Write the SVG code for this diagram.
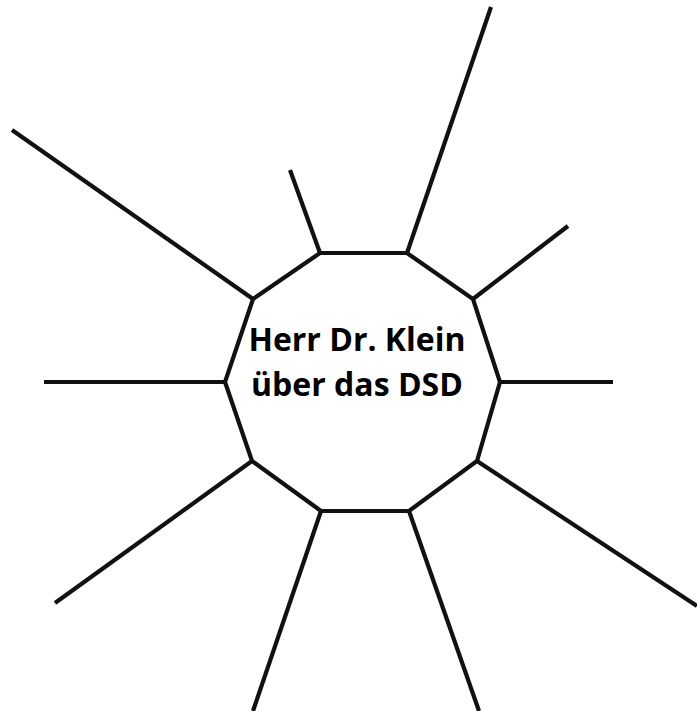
<svg xmlns="http://www.w3.org/2000/svg" width="697" height="711" viewBox="0 0 697 711">
<style>
.l{stroke:#111;stroke-width:4.2;fill:none;stroke-linecap:butt}
.t{font-family:"Open Sans","Noto Sans",sans-serif;font-weight:700;font-size:32px;fill:#000;text-anchor:middle}
</style>
<rect width="697" height="711" fill="#fff"/>
<g id="connectors">
<line class="l" x1="320" y1="253" x2="290" y2="170"/>
<line class="l" x1="407" y1="253" x2="491" y2="7"/>
<line class="l" x1="473" y1="299" x2="568" y2="226"/>
<line class="l" x1="500" y1="382" x2="613" y2="382"/>
<line class="l" x1="477" y1="461" x2="697" y2="606"/>
<line class="l" x1="409" y1="511" x2="479" y2="711"/>
<line class="l" x1="321" y1="511" x2="253" y2="711"/>
<line class="l" x1="252" y1="461" x2="55" y2="603"/>
<line class="l" x1="225" y1="382" x2="44" y2="382"/>
<line class="l" x1="253" y1="299" x2="12" y2="130"/>
</g>
<g id="center">
<polygon class="l" stroke-linejoin="miter" points="320,253 407,253 473,299 500,382 477,461 409,511 321,511 252,461 225,382 253,299"/>
<text class="t" x="357" y="351">Herr Dr. Klein</text>
<text class="t" x="357" y="396">über das DSD</text>
</g>
</svg>
